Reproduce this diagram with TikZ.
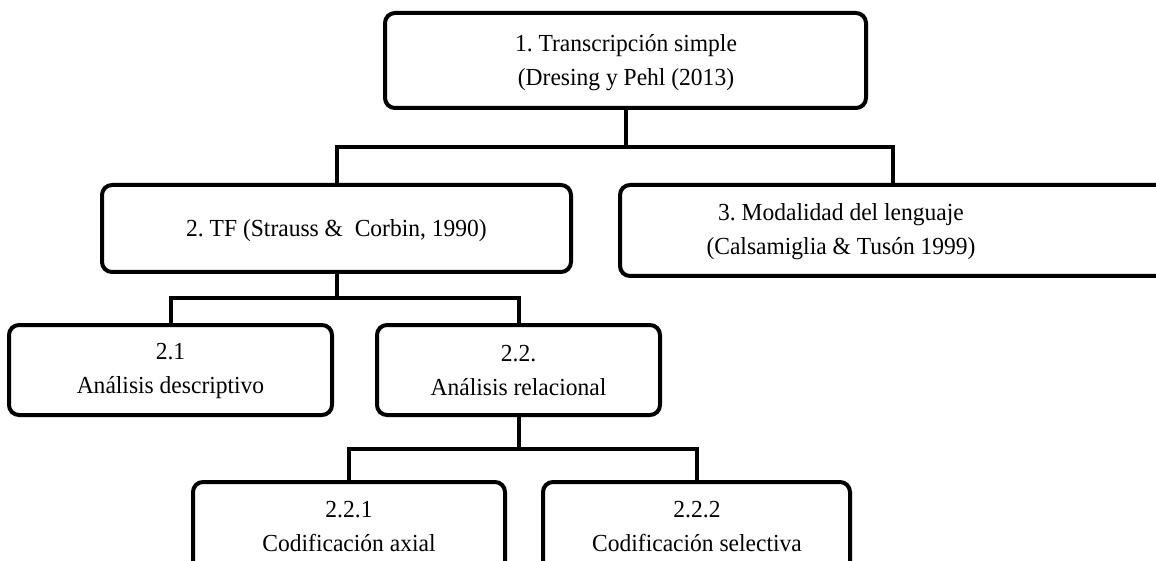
\documentclass[tikz,border=0pt]{standalone}
\usepackage{fontspec}
\setmainfont{Liberation Serif}[FakeStretch=0.96]
\frenchspacing
\begin{document}
\begin{tikzpicture}[x=1pt,y=-1pt,
  box/.style={draw=black, line width=4pt, rounded corners=10pt, inner sep=0pt, anchor=center},
  txt/.style={align=center, inner sep=0pt, font=\fontsize{24.5}{34}\selectfont},
  conn/.style={draw=black, line width=4pt}]
\useasboundingbox (0,0) rectangle (1156,561);
\clip (0,0) rectangle (1156,561);
% boxes
\node[box, minimum width=481pt, minimum height=95pt] (b1) at (625.5,60.5) {};
\node[box, minimum width=469pt, minimum height=87pt] (b2) at (336.5,228.5) {};
\node[box, minimum width=546pt, minimum height=91pt] (b3) at (893,230.5) {};
\node[box, minimum width=323pt, minimum height=90pt] (b21) at (170.5,370) {};
\node[box, minimum width=283pt, minimum height=90pt] (b22) at (518.5,370) {};
\node[box, minimum width=312pt, minimum height=118pt] (b221) at (349,541) {};
\node[box, minimum width=307pt, minimum height=118pt] (b222) at (696.5,541) {};
% texts
\node[txt] (t1) at (626,63) {1. Transcripción simple\\(Dresing y Pehl (2013)};
\node[txt] (t2) at (336.5,231) {2. TF (Strauss \&~ Corbin, 1990)};
\node[txt] (t3) at (841,232) {3. Modalidad del lenguaje\\(Calsamiglia \& Tusón 1999)};
\node[txt] (t21) at (170.5,371) {2.1\\Análisis descriptivo};
\node[txt] (t22) at (518.5,371) {2.2.\\Análisis relacional};
\node[txt] (t221) at (349,527) {2.2.1\\Codificación axial};
\node[txt] (t222) at (697,527) {2.2.2\\Codificación selectiva};
% connectors
\coordinate (j1) at (625.5,147);
\coordinate (j2) at (336.5,298);
\coordinate (j3) at (518.5,449);
\draw[conn] (b1.south) -- (j1);
\draw[conn] (b2.north) |- (j1) -| (b3.north);
\draw[conn] (b2.south) -- (j2);
\draw[conn] (b21.north) |- (j2) -| (b22.north);
\draw[conn] (b22.south) -- (j3);
\draw[conn] (b221.north) |- (j3) -| (b222.north);
\end{tikzpicture}
\end{document}
